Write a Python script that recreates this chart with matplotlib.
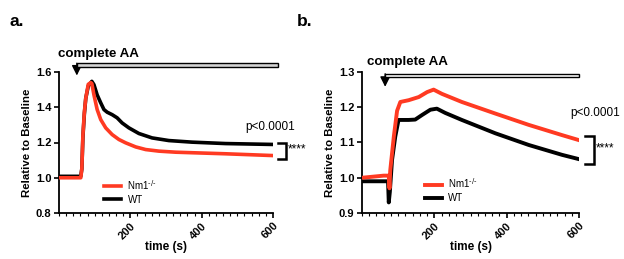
import matplotlib
matplotlib.use("Agg")
import matplotlib.pyplot as plt
from matplotlib.patches import Rectangle

plt.rcParams['font.family'] = ['Liberation Sans', 'DejaVu Sans']

RED = '#ff3a22'

# panel a
t_a_red = [0, 20, 40, 61, 64, 67, 71, 75, 82, 89, 92, 98, 107, 117, 131, 149, 168,
           187, 215, 243, 280, 327, 373, 467, 598]
y_a_red = [1.0, 1.0, 1.0, 1.0, 1.05, 1.24, 1.37, 1.45, 1.53, 1.54, 1.535, 1.47, 1.387,
           1.33, 1.283, 1.245, 1.217, 1.198, 1.175, 1.16, 1.151, 1.145, 1.142, 1.136, 1.126]
t_a_wt = [0, 20, 40, 61, 64, 67, 71, 75, 82, 92, 98, 107, 117, 126, 135, 149, 163,
          177, 196, 224, 261, 308, 373, 467, 598]
y_a_wt = [1.008, 1.008, 1.008, 1.008, 1.05, 1.23, 1.36, 1.45, 1.52, 1.547, 1.528,
          1.47, 1.425, 1.387, 1.372, 1.358, 1.34, 1.311, 1.283, 1.251, 1.226, 1.211,
          1.202, 1.194, 1.189]

# panel b
t_b_red = [0, 20, 40, 60, 74, 76, 78, 88, 97, 106, 129, 157, 180, 198, 221, 276,
           369, 461, 553, 599]
y_b_red = [1.0, 1.002, 1.004, 1.006, 1.006, 0.97, 1.02, 1.117, 1.19, 1.215, 1.22,
           1.229, 1.243, 1.25, 1.238, 1.215, 1.182, 1.15, 1.121, 1.107]
t_b_wt = [0, 20, 40, 60, 72, 74, 77, 83, 92, 101, 129, 147, 166, 189, 207, 230, 276,
          369, 461, 553, 599]
y_b_wt = [0.99, 0.99, 0.99, 0.99, 0.99, 0.93, 0.96, 1.05, 1.117, 1.164, 1.164, 1.165,
          1.178, 1.193, 1.196, 1.184, 1.164, 1.126, 1.093, 1.065, 1.053]

yt_a = [0.8, 1.0, 1.2, 1.4, 1.6]
yt_b = [0.9, 1.0, 1.1, 1.2, 1.3]
xt = [200, 400, 600]

W, H = 624, 259
fig = plt.figure(figsize=(W / 100, H / 100), dpi=100)


def px(x, y):
    return x / W, 1 - y / H


def style(ax, yt):
    for s in ['top', 'right']:
        ax.spines[s].set_visible(False)
    for s in ['left', 'bottom']:
        ax.spines[s].set_linewidth(1.3)
    ax.set_xlim(0, 600)
    ax.set_ylim(yt[0], yt[-1])
    ax.set_yticks(yt)
    ax.set_yticklabels([f'{v:.1f}' for v in yt], fontsize=8, fontweight='bold')
    ax.set_xticks(xt)
    ax.set_xticks(range(0, 601, 20), minor=True)
    ax.set_xticklabels([str(v) for v in xt], fontsize=8, fontweight='bold',
                       rotation=45, ha='right', va='top', rotation_mode='anchor')
    ax.tick_params(axis='both', which='major', length=3.5, width=1.2, pad=2)
    ax.tick_params(axis='x', which='minor', length=2, width=0.8)
    ax.set_ylabel('Relative to Baseline', fontsize=8.2, fontweight='bold', labelpad=3)
    ax.set_xlabel('time (s)', fontsize=8.5, fontweight='bold', labelpad=0)


def stim(ax, x0, x1, ylo, yhi, ytip, fill):
    ax.add_patch(Rectangle((x0, ylo), x1 - x0, yhi - ylo, facecolor=fill,
                           edgecolor='black', lw=1.0, clip_on=False, zorder=5))
    ax.annotate('', xy=(x0, ytip), xytext=(x0, yhi), annotation_clip=False,
                arrowprops=dict(arrowstyle='-|>,head_width=0.3,head_length=0.6',
                                color='black', lw=1.0, shrinkA=0, shrinkB=0))


def bracket(ax, x0, x1, ylo, yhi):
    ax.plot([x0, x1, x1, x0], [yhi, yhi, ylo, ylo], color='black', lw=1.8,
            clip_on=False, solid_joinstyle='miter')


lab_ko = r'Nm1$^{\text{-/-}}$'
leg_kw = dict(loc='upper left', frameon=False, fontsize=7, handlelength=1.7,
              handletextpad=0.7, labelspacing=0.3)

# panel a
axa = fig.add_axes([59 / W, 1 - 213 / H, 214 / W, 141 / H])
axa.plot(t_a_red, y_a_red, color=RED, lw=2.6, label=lab_ko, zorder=3)
axa.plot(t_a_wt, y_a_wt, color='black', lw=2.6, label='WT', zorder=2)
style(axa, yt_a)
stim(axa, 50, 614, 1.628, 1.650, 1.58, '#d4d4d4')
bracket(axa, 613, 636, 1.107, 1.2)
axa.text(640, 1.158, '****', fontsize=8.5, va='center', ha='left')
axa.legend(bbox_to_anchor=(0.17, 0.31), **leg_kw)

# panel b
axb = fig.add_axes([362 / W, 1 - 213 / H, 217 / W, 141 / H])
axb.plot(t_b_red, y_b_red, color=RED, lw=2.8, label=lab_ko, zorder=3)
axb.plot(t_b_wt, y_b_wt, color='black', lw=2.8, label='WT', zorder=2)
style(axb, yt_b)
stim(axb, 64, 600, 1.286, 1.295, 1.258, 'white')
bracket(axb, 617, 641, 1.039, 1.118)
axb.text(646, 1.084, '****', fontsize=8.5, va='center', ha='left')
axb.legend(bbox_to_anchor=(0.25, 0.32), **leg_kw)

# texts
fig.text(*px(9, 21), 'a.', fontsize=12.5, fontweight='bold', va='center')
fig.text(*px(297, 21), 'b.', fontsize=12.5, fontweight='bold', va='center')
fig.text(*px(58, 54), 'complete AA', fontsize=9.6, fontweight='bold', va='center')
fig.text(*px(367, 62), 'complete AA', fontsize=9.6, fontweight='bold', va='center')
fig.text(*px(245, 127), 'p<0.0001', fontsize=8.5, va='center')
fig.text(*px(570, 113), 'p<0.0001', fontsize=8.5, va='center')

fig.savefig('out.png', dpi=100)
